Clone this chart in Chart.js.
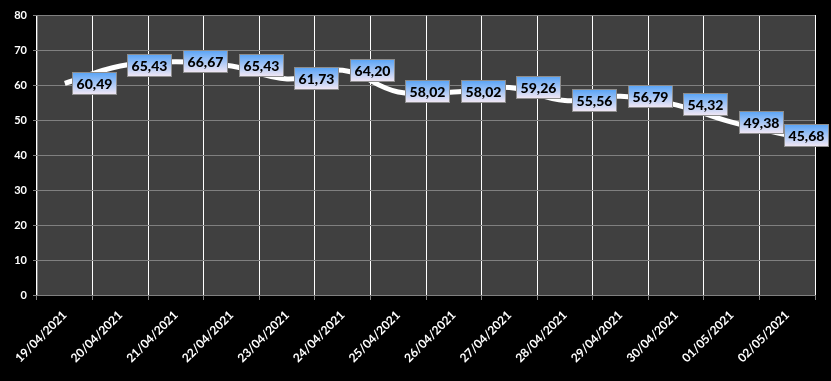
<!DOCTYPE html>
<html>
<head>
<meta charset="utf-8">
<script src="https://cdn.jsdelivr.net/npm/chart.js@4"></script>
<style>
  html, body { margin: 0; padding: 0; background: #000; }
  #wrap { width: 831px; height: 381px; }
</style>
</head>
<body>
<div id="wrap"><canvas id="chart" width="831" height="381"></canvas></div>
<script>
// ---- data ----
const categories = [
  '19/04/2021', '20/04/2021', '21/04/2021', '22/04/2021', '23/04/2021',
  '24/04/2021', '25/04/2021', '26/04/2021', '27/04/2021', '28/04/2021',
  '29/04/2021', '30/04/2021', '01/05/2021', '02/05/2021'
];
const values = [60.49, 65.43, 66.67, 65.43, 61.73, 64.20, 58.02, 58.02, 59.26, 55.56, 56.79, 54.32, 49.38, 45.68];
const yMin = 0;
const yMax = 80;
const yStep = 10;

// black canvas + dark grey plot area
const plotBackground = {
  id: 'plotBackground',
  beforeDraw(chart) {
    const { ctx, chartArea: a } = chart;
    ctx.save();
    ctx.fillStyle = '#000000';
    ctx.fillRect(0, 0, chart.width, chart.height);
    ctx.fillStyle = '#404040';
    ctx.fillRect(a.left, a.top, a.right - a.left, a.bottom - a.top);
    ctx.restore();
  }
};

// excel-like boxed value labels to the right of each point
const valueLabels = {
  id: 'valueLabels',
  afterDatasetsDraw(chart) {
    const { ctx } = chart;
    const meta = chart.getDatasetMeta(0);
    ctx.save();
    ctx.font = '900 14px Lato';
    ctx.textAlign = 'center';
    ctx.textBaseline = 'middle';
    meta.data.forEach((pt, i) => {
      const text = values[i].toFixed(2).replace('.', ',');
      const w = 45;
      const h = 23;
      let x0 = Math.round(pt.x + 7);
      if (x0 + w > chart.width - 2) x0 = chart.width - 2 - w;
      const y0 = Math.round(pt.y - h / 2);
      const g = ctx.createLinearGradient(0, y0, 0, y0 + h);
      g.addColorStop(0, '#55a2f6');
      g.addColorStop(1, '#f6e9f4');
      ctx.fillStyle = g;
      ctx.fillRect(x0, y0, w, h);
      ctx.strokeStyle = '#8c8c8c';
      ctx.lineWidth = 1;
      ctx.strokeRect(x0 + 0.5, y0 + 0.5, w - 1, h - 1);
      ctx.fillStyle = '#000000';
      ctx.fillText(text, x0 + w / 2, y0 + h / 2 + 1);
    });
    ctx.restore();
  }
};

const ctx = document.getElementById('chart').getContext('2d');
new Chart(ctx, {
  type: 'line',
  data: {
    labels: categories,
    datasets: [{
      data: values,
      borderColor: '#ffffff',
      borderWidth: 5,
      tension: 0.4,
      pointRadius: 0,
      fill: false
    }]
  },
  options: {
    responsive: false,
    animation: false,
    layout: { padding: { top: 15, right: 16, left: 0, bottom: 0 } },
    plugins: {
      legend: { display: false },
      tooltip: { enabled: false }
    },
    scales: {
      x: {
        offset: true,
        grid: { offset: true, color: '#ffffff', tickColor: '#808080', tickLength: 5 },
        border: { color: '#808080' },
        ticks: {
          color: '#ffffff',
          font: { family: 'Lato', weight: 'bold', size: 12 },
          minRotation: 45,
          maxRotation: 45,
          autoSkip: false,
          padding: 8
        },
        afterFit(scale) { scale.height = 86; }
      },
      y: {
        min: yMin,
        max: yMax,
        grid: { color: '#808080', tickLength: 4 },
        border: { color: '#808080' },
        ticks: {
          stepSize: yStep,
          color: '#ffffff',
          font: { family: 'Lato', weight: 'bold', size: 11 },
          padding: 6
        },
        afterFit(scale) { scale.width = 37; }
      }
    }
  },
  plugins: [plotBackground, valueLabels]
});
</script>
</body>
</html>
